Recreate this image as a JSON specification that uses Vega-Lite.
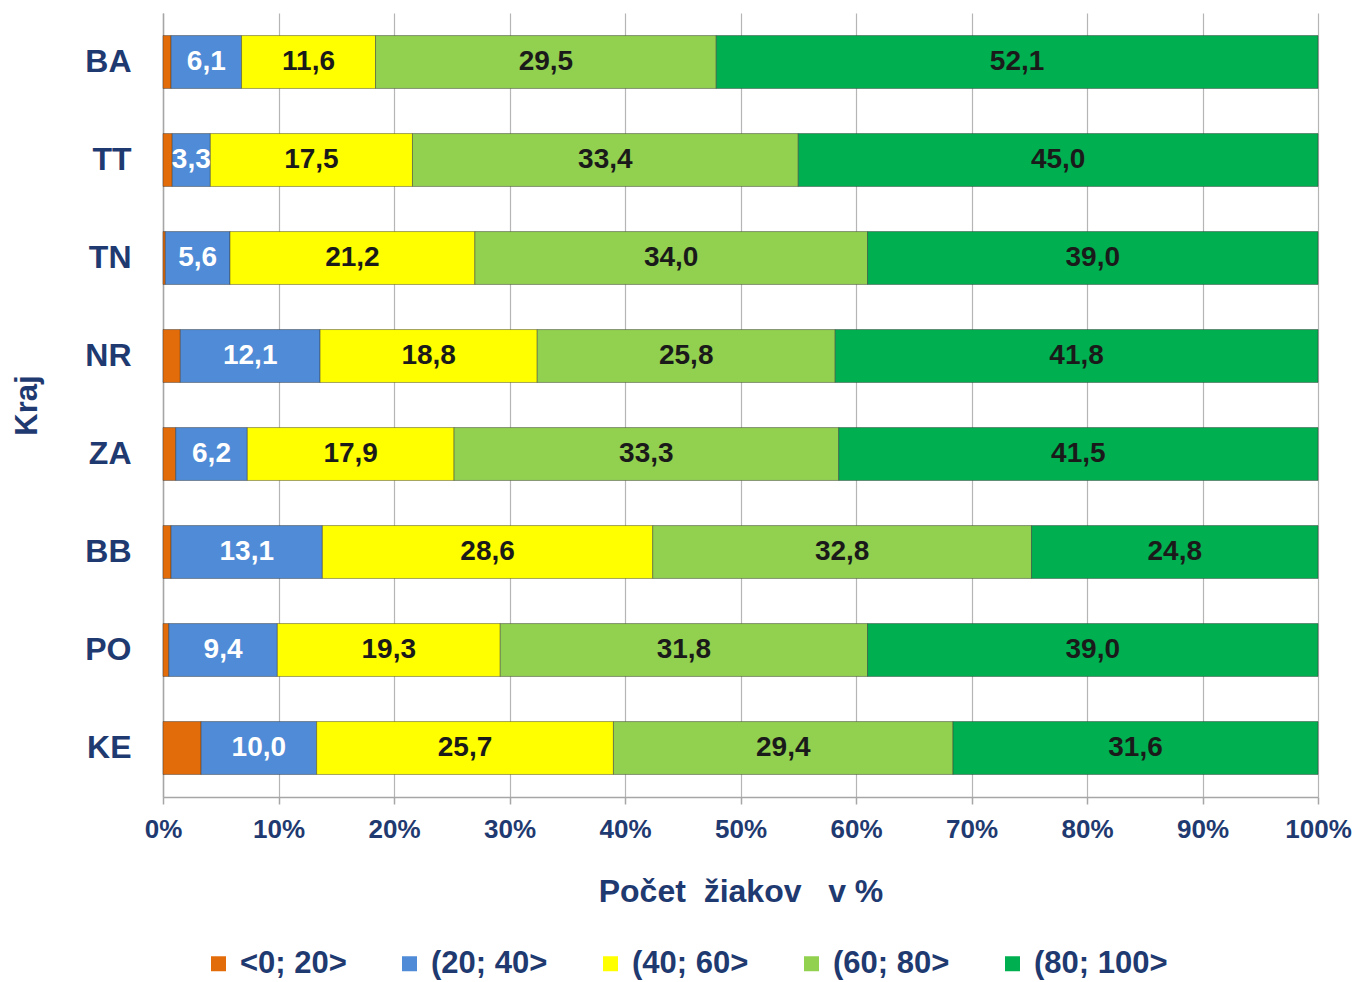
{
  "$schema": "https://vega.github.io/schema/vega-lite/v6.json",
  "width": 1155,
  "height": 784,
  "autosize": {"type": "none"},
  "padding": {"left": 163, "top": 13, "right": 38, "bottom": 185},
  "background": "white",
  "config": {"view": {"stroke": null}, "font": "Liberation Sans"},
  "data": {"values": [
    {"kraj": "BA", "kat": "<0; 20>", "o": 1, "value": 0.7},
    {"kraj": "BA", "kat": "(20; 40>", "o": 2, "value": 6.1},
    {"kraj": "BA", "kat": "(40; 60>", "o": 3, "value": 11.6},
    {"kraj": "BA", "kat": "(60; 80>", "o": 4, "value": 29.5},
    {"kraj": "BA", "kat": "(80; 100>", "o": 5, "value": 52.1},
    {"kraj": "TT", "kat": "<0; 20>", "o": 1, "value": 0.8},
    {"kraj": "TT", "kat": "(20; 40>", "o": 2, "value": 3.3},
    {"kraj": "TT", "kat": "(40; 60>", "o": 3, "value": 17.5},
    {"kraj": "TT", "kat": "(60; 80>", "o": 4, "value": 33.4},
    {"kraj": "TT", "kat": "(80; 100>", "o": 5, "value": 45.0},
    {"kraj": "TN", "kat": "<0; 20>", "o": 1, "value": 0.2},
    {"kraj": "TN", "kat": "(20; 40>", "o": 2, "value": 5.6},
    {"kraj": "TN", "kat": "(40; 60>", "o": 3, "value": 21.2},
    {"kraj": "TN", "kat": "(60; 80>", "o": 4, "value": 34.0},
    {"kraj": "TN", "kat": "(80; 100>", "o": 5, "value": 39.0},
    {"kraj": "NR", "kat": "<0; 20>", "o": 1, "value": 1.5},
    {"kraj": "NR", "kat": "(20; 40>", "o": 2, "value": 12.1},
    {"kraj": "NR", "kat": "(40; 60>", "o": 3, "value": 18.8},
    {"kraj": "NR", "kat": "(60; 80>", "o": 4, "value": 25.8},
    {"kraj": "NR", "kat": "(80; 100>", "o": 5, "value": 41.8},
    {"kraj": "ZA", "kat": "<0; 20>", "o": 1, "value": 1.1},
    {"kraj": "ZA", "kat": "(20; 40>", "o": 2, "value": 6.2},
    {"kraj": "ZA", "kat": "(40; 60>", "o": 3, "value": 17.9},
    {"kraj": "ZA", "kat": "(60; 80>", "o": 4, "value": 33.3},
    {"kraj": "ZA", "kat": "(80; 100>", "o": 5, "value": 41.5},
    {"kraj": "BB", "kat": "<0; 20>", "o": 1, "value": 0.7},
    {"kraj": "BB", "kat": "(20; 40>", "o": 2, "value": 13.1},
    {"kraj": "BB", "kat": "(40; 60>", "o": 3, "value": 28.6},
    {"kraj": "BB", "kat": "(60; 80>", "o": 4, "value": 32.8},
    {"kraj": "BB", "kat": "(80; 100>", "o": 5, "value": 24.8},
    {"kraj": "PO", "kat": "<0; 20>", "o": 1, "value": 0.5},
    {"kraj": "PO", "kat": "(20; 40>", "o": 2, "value": 9.4},
    {"kraj": "PO", "kat": "(40; 60>", "o": 3, "value": 19.3},
    {"kraj": "PO", "kat": "(60; 80>", "o": 4, "value": 31.8},
    {"kraj": "PO", "kat": "(80; 100>", "o": 5, "value": 39.0},
    {"kraj": "KE", "kat": "<0; 20>", "o": 1, "value": 3.3},
    {"kraj": "KE", "kat": "(20; 40>", "o": 2, "value": 10.0},
    {"kraj": "KE", "kat": "(40; 60>", "o": 3, "value": 25.7},
    {"kraj": "KE", "kat": "(60; 80>", "o": 4, "value": 29.4},
    {"kraj": "KE", "kat": "(80; 100>", "o": 5, "value": 31.6}
  ]},
  "transform": [
    {"stack": "value", "groupby": ["kraj"], "sort": [{"field": "o", "order": "ascending"}], "as": ["x0", "x1"]},
    {"calculate": "(datum.x0 + datum.x1) / 2", "as": "xm"},
    {"calculate": "replace(format(datum.value, '.1f'), '.', ',')", "as": "lab"}
  ],
  "encoding": {
    "y": {
      "field": "kraj", "type": "nominal",
      "sort": ["BA", "TT", "TN", "NR", "ZA", "BB", "PO", "KE"],
      "scale": {"paddingInner": 0.46, "paddingOuter": 0.23},
      "axis": {
        "title": "Kraj", "titleFontSize": 31, "titleFont": "Liberation Sans", "titleFontWeight": "bold", "titleColor": "#1F3A70",
        "titlePadding": 41,
        "labelFontSize": 32, "labelFontWeight": "bold", "labelColor": "#1F3A70", "labelPadding": 32,
        "ticks": false, "domain": true, "domainColor": "#a6a6a6", "domainWidth": 1.5, "grid": false
      }
    }
  },
  "layer": [
    {
      "mark": {"type": "bar", "stroke": "#333333", "strokeOpacity": 0.45, "strokeWidth": 1},
      "encoding": {
        "x": {
          "field": "x0", "type": "quantitative",
          "scale": {"domain": [0, 100], "nice": false},
          "axis": {
            "title": "Počet\u00a0\u00a0žiakov\u00a0\u00a0\u00a0v\u00a0%", "titleFontSize": 32, "titleFontWeight": "bold", "titleColor": "#1F3A70", "titlePadding": 34,
            "values": [0, 10, 20, 30, 40, 50, 60, 70, 80, 90, 100],
            "labelExpr": "datum.value + '%'",
            "labelFontSize": 26, "labelFontWeight": "bold", "labelColor": "#1F3A70", "labelPadding": 12,
            "labelFlush": false, "labelOverlap": false,
            "grid": true, "gridColor": "#b5b5b5", "gridWidth": 1.2,
            "domainColor": "#a6a6a6", "domainWidth": 1.5, "tickColor": "#a6a6a6", "tickSize": 7, "tickWidth": 1.5
          }
        },
        "x2": {"field": "x1"},
        "color": {
          "field": "kat", "type": "nominal",
          "sort": ["<0; 20>", "(20; 40>", "(40; 60>", "(60; 80>", "(80; 100>"],
          "scale": {
            "domain": ["<0; 20>", "(20; 40>", "(40; 60>", "(60; 80>", "(80; 100>"],
            "range": ["#E36C0A", "#4F8BD6", "#FFFF00", "#92D050", "#00B050"]
          },
          "legend": {
            "title": null, "orient": "none", "direction": "horizontal",
            "legendX": 40, "legendY": 935,
            "symbolType": "square", "symbolSize": 225, "symbolStrokeWidth": 0,
            "labelFontSize": 31, "labelFontWeight": "bold", "labelColor": "#1F3A70",
            "labelOffset": 6, "columnPadding": 47
          }
        }
      }
    },
    {
      "transform": [{"filter": "datum.o > 1"}],
      "mark": {"type": "text", "fontSize": 28, "fontWeight": "bold", "align": "center", "baseline": "middle"},
      "encoding": {
        "x": {"field": "xm", "type": "quantitative"},
        "text": {"field": "lab"},
        "color": {
          "condition": {"test": "datum.o == 2", "value": "#ffffff"},
          "value": "#1a1a1a"
        }
      }
    }
  ]
}
